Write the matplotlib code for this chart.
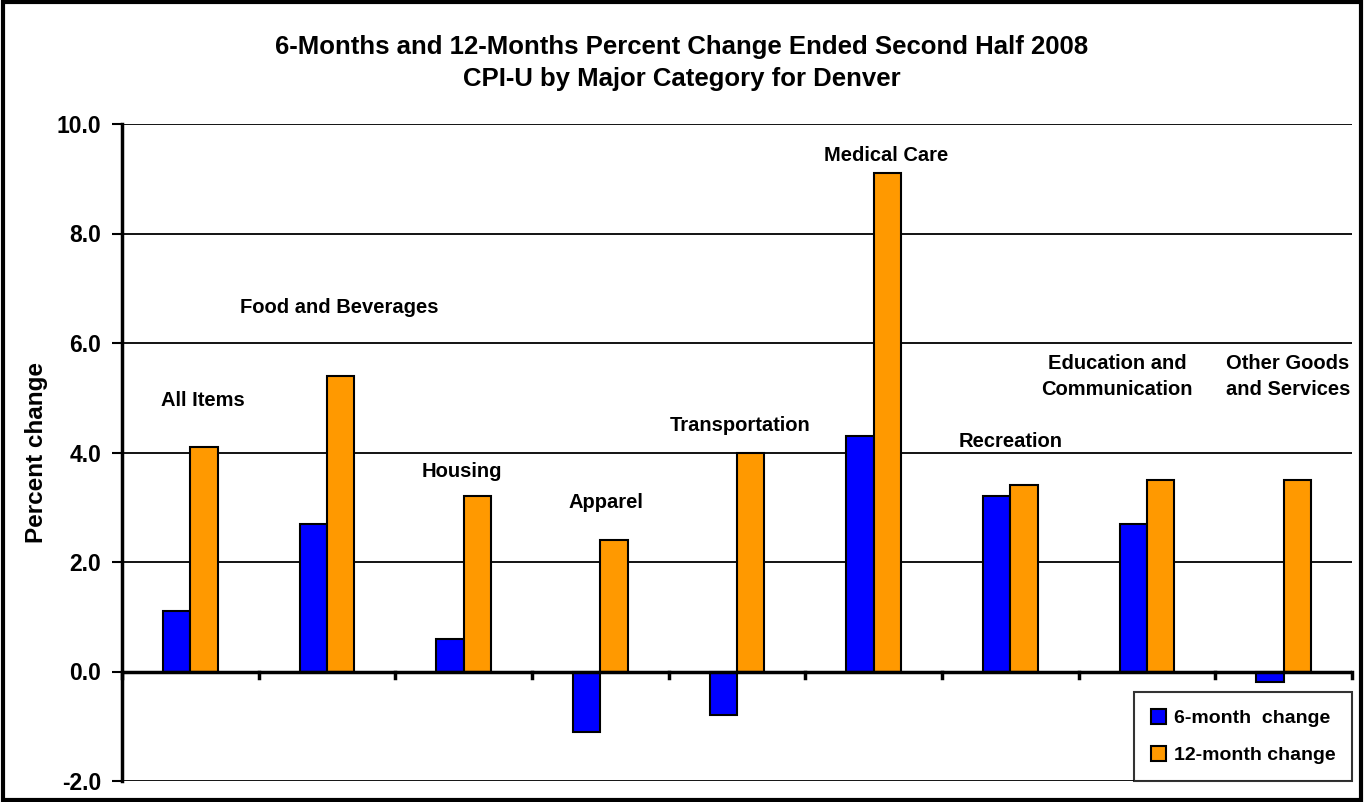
import matplotlib
matplotlib.use("Agg")
import matplotlib.pyplot as plt
from matplotlib.patches import Rectangle
import numpy as np

categories = ["All Items", "Food and Beverages", "Housing", "Apparel", "Transportation",
              "Medical Care", "Recreation", "Education and\nCommunication", "Other Goods\nand Services"]
six_month = [1.1, 2.7, 0.6, -1.1, -0.8, 4.3, 3.2, 2.7, -0.2]
twelve_month = [4.1, 5.4, 3.2, 2.4, 4.0, 9.1, 3.4, 3.5, 3.5]
yticks = [-2.0, 0.0, 2.0, 4.0, 6.0, 8.0, 10.0]

# label anchor positions (data coords)
label_x = [0.09, 1.09, 1.99, 3.04, 4.02, 5.09, 6.0, 6.78, 8.03]
label_y = [4.95, 6.64, 3.65, 3.08, 4.5, 9.43, 4.2, 5.39, 5.39]

plt.rcParams['font.family'] = ['Liberation Sans', 'DejaVu Sans']
plt.rcParams['font.weight'] = 'bold'

fig = plt.figure(figsize=(13.64, 8.02), dpi=100)
ax = fig.add_axes([122/1364, 1-781/802, (1352-122)/1364, (781-124)/802])

x = np.arange(len(categories))
w = 0.2
ax.bar(x - w/2, six_month, w, color="#0000FF", edgecolor="black", linewidth=1.5,
       label="6-month  change", zorder=3)
ax.bar(x + w/2, twelve_month, w, color="#FF9900", edgecolor="black", linewidth=1.5,
       label="12-month change", zorder=3)

ax.set_xlim(-0.5, len(categories) - 0.5)
ax.set_ylim(-2, 10)
ax.set_yticks(yticks)
ax.set_yticklabels([f"{v:.1f}" for v in yticks], fontsize=16.5, fontweight='bold')
for v in yticks:
    if v != 0:
        ax.axhline(v, color="black", linewidth=1.3, zorder=1)
ax.axhline(0, color="black", linewidth=2.5, zorder=4)

ax.set_xticks(np.arange(len(categories) + 1) - 0.5)
ax.set_xticklabels([])
ax.xaxis.set_ticks_position('none')
for t in np.arange(len(categories) + 1) - 0.5:
    ax.plot([t, t], [0, -0.12], color="black", linewidth=2.5, zorder=4, clip_on=False)

for s in ["top", "right", "bottom"]:
    ax.spines[s].set_visible(False)
ax.spines["left"].set_linewidth(2.5)
ax.tick_params(axis='y', length=7, width=1.5, pad=8)

for lx, ly, lab in zip(label_x, label_y, categories):
    ax.text(lx, ly, lab, ha="center", va="center", fontsize=14.5, fontweight="bold",
            linespacing=1.45)

ax.set_ylabel("Percent change", fontsize=17.5, fontweight="bold", labelpad=6)

fig.text(0.5, 1-47/802, "6-Months and 12-Months Percent Change Ended Second Half 2008",
         ha="center", va="center", fontsize=18.5, fontweight="bold")
fig.text(0.5, 1-79/802, "CPI-U by Major Category for Denver",
         ha="center", va="center", fontsize=18.5, fontweight="bold")

leg = ax.legend(loc="lower right", bbox_to_anchor=(1.0, 0.0), fontsize=14, frameon=True,
                fancybox=False, edgecolor="black", handlelength=0.8, handleheight=0.8,
                labelspacing=1.0, borderpad=0.85, handletextpad=0.4, borderaxespad=0.0)
leg.get_frame().set_linewidth(1.5)

fig.patches.append(Rectangle((0.002, 0.002), 0.996, 0.996, transform=fig.transFigure,
                             fill=False, edgecolor="black", linewidth=3))

fig.savefig("out.png", dpi=100)
